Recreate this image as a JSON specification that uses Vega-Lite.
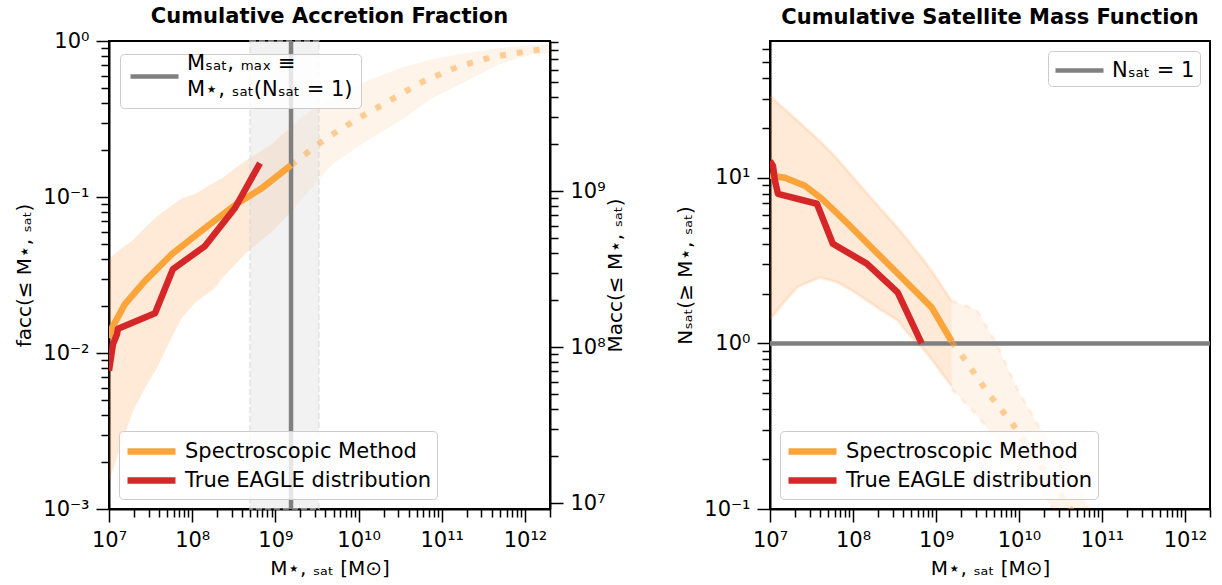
{
  "$schema": "https://vega.github.io/schema/vega-lite/v6.json",
  "padding": {"left": 13, "top": 5, "right": 5, "bottom": 5},
  "datasets": {
    "grayBand": [{"lo": 495000000, "hi": 3340000000}],
    "vline": [{"x": 1542000000, "label": "Msat, max ≡ M⋆, sat(Nsat = 1)"}],
    "macc": [{"m": 9160000}, {"m": 9160000000}],
    "leftDark": [
      {"x": 10000000, "lo": 0.0015, "hi": 0.040},
      {"x": 14130000, "lo": 0.0026, "hi": 0.047},
      {"x": 19410000, "lo": 0.00425, "hi": 0.053},
      {"x": 28180000, "lo": 0.0062, "hi": 0.065},
      {"x": 37760000, "lo": 0.008, "hi": 0.075},
      {"x": 56230000, "lo": 0.0125, "hi": 0.088},
      {"x": 75340000, "lo": 0.0168, "hi": 0.098},
      {"x": 108100000, "lo": 0.021, "hi": 0.1045},
      {"x": 187900000, "lo": 0.0261, "hi": 0.125},
      {"x": 228000000, "lo": 0.030, "hi": 0.132},
      {"x": 431500000, "lo": 0.0431, "hi": 0.170},
      {"x": 910000000, "lo": 0.060, "hi": 0.219},
      {"x": 1542000000, "lo": 0.080, "hi": 0.28}
    ],
    "leftLight": [
      {"x": 1542000000, "lo": 0.080, "hi": 0.28},
      {"x": 2138000000, "lo": 0.0986, "hi": 0.33},
      {"x": 4898000000, "lo": 0.163, "hi": 0.44},
      {"x": 12590000000, "lo": 0.229, "hi": 0.554},
      {"x": 31620000000, "lo": 0.307, "hi": 0.671},
      {"x": 77620000000, "lo": 0.431, "hi": 0.767},
      {"x": 199500000000, "lo": 0.554, "hi": 0.838},
      {"x": 501200000000, "lo": 0.712, "hi": 0.902},
      {"x": 1259000000000, "lo": 0.826, "hi": 0.94},
      {"x": 2000000000000, "lo": 0.838, "hi": 0.957}
    ],
    "leftDotted": [
      {"x": 1542000000, "y": 0.16},
      {"x": 3945000000, "y": 0.235},
      {"x": 9572000000, "y": 0.316},
      {"x": 23170000000, "y": 0.412},
      {"x": 57810000000, "y": 0.546},
      {"x": 152400000000, "y": 0.681},
      {"x": 400900000000, "y": 0.789},
      {"x": 1148000000000, "y": 0.863},
      {"x": 2000000000000, "y": 0.90}
    ],
    "leftLines": [
      {"series": "Spectroscopic Method", "x": 10000000, "y": 0.0125},
      {"series": "Spectroscopic Method", "x": 10860000, "y": 0.0145},
      {"series": "Spectroscopic Method", "x": 15560000, "y": 0.0206},
      {"series": "Spectroscopic Method", "x": 27100000, "y": 0.029},
      {"series": "Spectroscopic Method", "x": 57150000, "y": 0.0431},
      {"series": "Spectroscopic Method", "x": 142600000, "y": 0.0633},
      {"series": "Spectroscopic Method", "x": 354800000, "y": 0.0916},
      {"series": "Spectroscopic Method", "x": 690200000, "y": 0.114},
      {"series": "Spectroscopic Method", "x": 1542000000, "y": 0.16},
      {"series": "True EAGLE distribution", "x": 10000000, "y": 0.0077},
      {"series": "True EAGLE distribution", "x": 11170000, "y": 0.0114},
      {"series": "True EAGLE distribution", "x": 12470000, "y": 0.0132},
      {"series": "True EAGLE distribution", "x": 12820000, "y": 0.0143},
      {"series": "True EAGLE distribution", "x": 35730000, "y": 0.018},
      {"series": "True EAGLE distribution", "x": 58750000, "y": 0.0345},
      {"series": "True EAGLE distribution", "x": 142600000, "y": 0.0485},
      {"series": "True EAGLE distribution", "x": 326600000, "y": 0.085},
      {"series": "True EAGLE distribution", "x": 653100000, "y": 0.165}
    ],
    "hline": [{"y": 1, "label": "Nsat = 1"}],
    "rightDark": [
      {"x": 10000000, "lo": 1.4, "hi": 31.2},
      {"x": 16440000, "lo": 1.89, "hi": 25},
      {"x": 21730000, "lo": 2.2, "hi": 22},
      {"x": 39810000, "lo": 2.5, "hi": 16.7},
      {"x": 63100000, "lo": 2.35, "hi": 13.2},
      {"x": 96830000, "lo": 2.09, "hi": 10.3},
      {"x": 138700000, "lo": 1.85, "hi": 8.35},
      {"x": 221800000, "lo": 1.58, "hi": 6.4},
      {"x": 345100000, "lo": 1.38, "hi": 5.0},
      {"x": 456000000, "lo": 1.15, "hi": 4.2},
      {"x": 671400000, "lo": 0.95, "hi": 3.3},
      {"x": 885100000, "lo": 0.8, "hi": 2.75},
      {"x": 1542000000, "lo": 0.55, "hi": 1.81}
    ],
    "rightLight": [
      {"x": 1542000000, "lo": 0.53, "hi": 1.81},
      {"x": 3090000000, "lo": 0.37, "hi": 1.6},
      {"x": 5370000000, "lo": 0.26, "hi": 1.0},
      {"x": 9333000000, "lo": 0.19, "hi": 0.543},
      {"x": 17580000000, "lo": 0.135, "hi": 0.312},
      {"x": 21380000000, "lo": 0.113, "hi": 0.27},
      {"x": 40360000000, "lo": 0.075, "hi": 0.165},
      {"x": 70150000000, "lo": 0.05, "hi": 0.1},
      {"x": 100000000000, "lo": 0.04, "hi": 0.075}
    ],
    "rightDotted": [
      {"x": 1542000000, "y": 1.03},
      {"x": 2344000000, "y": 0.77},
      {"x": 3162000000, "y": 0.62},
      {"x": 4169000000, "y": 0.507},
      {"x": 5808000000, "y": 0.41},
      {"x": 8110000000, "y": 0.334},
      {"x": 20180000000, "y": 0.17},
      {"x": 41690000000, "y": 0.1},
      {"x": 63100000000, "y": 0.075}
    ],
    "rightLines": [
      {"series": "Spectroscopic Method", "x": 10000000, "y": 10.3},
      {"series": "Spectroscopic Method", "x": 15140000, "y": 10.0},
      {"series": "Spectroscopic Method", "x": 26300000, "y": 8.95},
      {"series": "Spectroscopic Method", "x": 42170000, "y": 7.47},
      {"series": "Spectroscopic Method", "x": 86700000, "y": 5.28},
      {"series": "Spectroscopic Method", "x": 182800000, "y": 3.63},
      {"series": "Spectroscopic Method", "x": 419800000, "y": 2.4},
      {"series": "Spectroscopic Method", "x": 885100000, "y": 1.65},
      {"series": "Spectroscopic Method", "x": 1542000000, "y": 1.03},
      {"series": "True EAGLE distribution", "x": 10000000, "y": 12.65},
      {"series": "True EAGLE distribution", "x": 10860000, "y": 11.8},
      {"series": "True EAGLE distribution", "x": 11480000, "y": 9.6},
      {"series": "True EAGLE distribution", "x": 12470000, "y": 8.0},
      {"series": "True EAGLE distribution", "x": 36730000, "y": 6.97},
      {"series": "True EAGLE distribution", "x": 57150000, "y": 4.0},
      {"series": "True EAGLE distribution", "x": 146600000, "y": 3.03},
      {"series": "True EAGLE distribution", "x": 345100000, "y": 2.03},
      {"series": "True EAGLE distribution", "x": 671400000, "y": 1.0}
    ]
  },
  "hconcat": [
    {
      "width": 441,
      "height": 468,
      "title": {"text": "Cumulative Accretion Fraction", "offset": 3},
      "layer": [
        {
          "layer": [
            {
              "data": {"name": "leftDark"},
              "mark": {"type": "area", "color": "#ff7f0e", "opacity": 0.16, "clip": true},
              "encoding": {
                "x": {"field": "x", "type": "quantitative",
                  "scale": {"type": "log", "domain": [10000000, 2000000000000], "nice": false},
                  "axis": {
                    "title": "M⋆, ₛₐₜ [M⊙]",
                    "values": [10000000,20000000,30000000,40000000,50000000,60000000,70000000,80000000,90000000,100000000,200000000,300000000,400000000,500000000,600000000,700000000,800000000,900000000,1000000000,2000000000,3000000000,4000000000,5000000000,6000000000,7000000000,8000000000,9000000000,10000000000,20000000000,30000000000,40000000000,50000000000,60000000000,70000000000,80000000000,90000000000,100000000000,200000000000,300000000000,400000000000,500000000000,600000000000,700000000000,800000000000,900000000000,1000000000000,2000000000000],
                    "labelExpr": "datum.value == 10000000 ? '10⁷' : datum.value == 100000000 ? '10⁸' : datum.value == 1000000000 ? '10⁹' : datum.value == 10000000000 ? '10¹⁰' : datum.value == 100000000000 ? '10¹¹' : datum.value == 1000000000000 ? '10¹²' : ''",
                    "tickSize": {"condition": {"test": "indexof([10000000,100000000,1000000000,10000000000,100000000000,1000000000000], datum.value) >= 0", "value": 13}, "value": 8}
                  }
                },
                "y": {"field": "lo", "type": "quantitative",
                  "scale": {"type": "log", "domain": [0.001, 1], "nice": false},
                  "axis": {
                    "title": "facc(≤ M⋆, ₛₐₜ)",
                    "values": [0.001,0.002,0.003,0.004,0.005,0.006,0.007,0.008,0.009,0.01,0.02,0.03,0.04,0.05,0.06,0.07,0.08,0.09,0.1,0.2,0.3,0.4,0.5,0.6,0.7,0.8,0.9,1],
                    "labelExpr": "datum.value == 0.001 ? '10⁻³' : datum.value == 0.01 ? '10⁻²' : datum.value == 0.1 ? '10⁻¹' : datum.value == 1 ? '10⁰' : ''",
                    "tickSize": {"condition": {"test": "indexof([0.001,0.01,0.1,1], datum.value) >= 0", "value": 13}, "value": 8}
                  }
                },
                "y2": {"field": "hi"}
              }
            },
            {
              "data": {"name": "leftLight"},
              "mark": {"type": "area", "color": "#ff7f0e", "opacity": 0.085, "clip": true},
              "encoding": {
                "x": {"field": "x", "type": "quantitative"},
                "y": {"field": "lo", "type": "quantitative"},
                "y2": {"field": "hi"}
              }
            },
            {
              "data": {"name": "grayBand"},
              "mark": {"type": "rect", "fill": "#d9d9d9", "fillOpacity": 0.35, "stroke": "#d9d9d9", "strokeOpacity": 0.5, "strokeDash": [6, 3], "strokeWidth": 2},
              "encoding": {
                "x": {"field": "lo", "type": "quantitative"},
                "x2": {"field": "hi"}
              }
            },
            {
              "data": {"name": "leftDotted"},
              "mark": {"type": "line", "color": "#fba43a", "opacity": 0.5, "strokeWidth": 6, "strokeDash": [6, 11], "strokeCap": "butt", "clip": true},
              "encoding": {
                "x": {"field": "x", "type": "quantitative"},
                "y": {"field": "y", "type": "quantitative"}
              }
            },
            {
              "data": {"name": "vline"},
              "mark": {"type": "rule", "strokeWidth": 4.5},
              "encoding": {
                "x": {"field": "x", "type": "quantitative"},
                "color": {"field": "label", "type": "nominal",
                  "scale": {"range": ["#808080"]},
                  "legend": {"orient": "none", "legendX": 11, "legendY": 13, "title": null, "symbolStrokeWidth": 4.5, "padding": 8,
                    "labelExpr": "['Mₛₐₜ, ₘₐₓ ≡', 'M⋆, ₛₐₜ(Nₛₐₜ = 1)']",
                    "encode": {"labels": {"update": {"dy": {"value": -13}, "lineHeight": {"value": 26}}}}}}
              }
            },
            {
              "data": {"name": "leftLines"},
              "mark": {"type": "line", "strokeWidth": 6.5, "strokeJoin": "round", "clip": true},
              "encoding": {
                "x": {"field": "x", "type": "quantitative"},
                "y": {"field": "y", "type": "quantitative"},
                "color": {"field": "series", "type": "nominal",
                  "scale": {"domain": ["Spectroscopic Method", "True EAGLE distribution"], "range": ["#fba43a", "#d62728"]},
                  "legend": {"orient": "bottom-left", "title": null}}
              }
            }
          ],
          "resolve": {"scale": {"color": "independent"}}
        },
        {
          "data": {"name": "macc"},
          "mark": {"type": "point", "opacity": 0},
          "encoding": {
            "y": {"field": "m", "type": "quantitative",
              "scale": {"type": "log", "domain": [9160000, 9160000000], "nice": false},
              "axis": {
                "orient": "right",
                "title": "Macc(≤ M⋆, ₛₐₜ)",
                "titleAngle": 270,
                "titleBaseline": "top",
                "titlePadding": 0,
                "values": [10000000,20000000,30000000,40000000,50000000,60000000,70000000,80000000,90000000,100000000,200000000,300000000,400000000,500000000,600000000,700000000,800000000,900000000,1000000000,2000000000,3000000000,4000000000,5000000000,6000000000,7000000000,8000000000,9000000000],
                "labelExpr": "datum.value == 10000000 ? '10⁷' : datum.value == 100000000 ? '10⁸' : datum.value == 1000000000 ? '10⁹' : ''",
                "tickSize": {"condition": {"test": "indexof([10000000,100000000,1000000000], datum.value) >= 0", "value": 13}, "value": 8}
              }
            }
          }
        }
      ],
      "resolve": {"scale": {"y": "independent"}}
    },
    {
      "width": 440,
      "height": 468,
      "title": {"text": "Cumulative Satellite Mass Function", "offset": 10},
      "layer": [
        {
          "data": {"name": "rightDark"},
          "mark": {"type": "area", "color": "#ff7f0e", "opacity": 0.16, "clip": true},
          "encoding": {
            "x": {"field": "x", "type": "quantitative",
              "scale": {"type": "log", "domain": [10000000, 2000000000000], "nice": false},
              "axis": {
                "title": "M⋆, ₛₐₜ [M⊙]",
                "values": [10000000,20000000,30000000,40000000,50000000,60000000,70000000,80000000,90000000,100000000,200000000,300000000,400000000,500000000,600000000,700000000,800000000,900000000,1000000000,2000000000,3000000000,4000000000,5000000000,6000000000,7000000000,8000000000,9000000000,10000000000,20000000000,30000000000,40000000000,50000000000,60000000000,70000000000,80000000000,90000000000,100000000000,200000000000,300000000000,400000000000,500000000000,600000000000,700000000000,800000000000,900000000000,1000000000000,2000000000000],
                "labelExpr": "datum.value == 10000000 ? '10⁷' : datum.value == 100000000 ? '10⁸' : datum.value == 1000000000 ? '10⁹' : datum.value == 10000000000 ? '10¹⁰' : datum.value == 100000000000 ? '10¹¹' : datum.value == 1000000000000 ? '10¹²' : ''",
                "tickSize": {"condition": {"test": "indexof([10000000,100000000,1000000000,10000000000,100000000000,1000000000000], datum.value) >= 0", "value": 13}, "value": 8}
              }
            },
            "y": {"field": "lo", "type": "quantitative",
              "scale": {"type": "log", "domain": [0.1, 67], "nice": false},
              "axis": {
                "title": "Nₛₐₜ(≥ M⋆, ₛₐₜ)",
                "values": [0.1,0.2,0.3,0.4,0.5,0.6,0.7,0.8,0.9,1,2,3,4,5,6,7,8,9,10,20,30,40,50,60],
                "labelExpr": "datum.value == 0.1 ? '10⁻¹' : datum.value == 1 ? '10⁰' : datum.value == 10 ? '10¹' : ''",
                "tickSize": {"condition": {"test": "indexof([0.1,1,10], datum.value) >= 0", "value": 13}, "value": 8}
              }
            },
            "y2": {"field": "hi"}
          }
        },
        {
          "data": {"name": "rightDark"},
          "mark": {"type": "line", "color": "#ff7f0e", "opacity": 0.12, "strokeWidth": 3, "clip": true},
          "encoding": {
            "x": {"field": "x", "type": "quantitative"},
            "y": {"field": "hi", "type": "quantitative"}
          }
        },
        {
          "data": {"name": "rightDark"},
          "mark": {"type": "line", "color": "#ff7f0e", "opacity": 0.12, "strokeWidth": 3, "clip": true},
          "encoding": {
            "x": {"field": "x", "type": "quantitative"},
            "y": {"field": "lo", "type": "quantitative"}
          }
        },
        {
          "data": {"name": "rightLight"},
          "mark": {"type": "area", "color": "#ff7f0e", "opacity": 0.085, "clip": true},
          "encoding": {
            "x": {"field": "x", "type": "quantitative"},
            "y": {"field": "lo", "type": "quantitative"},
            "y2": {"field": "hi"}
          }
        },
        {
          "data": {"name": "rightLight"},
          "mark": {"type": "line", "color": "#ff7f0e", "opacity": 0.1, "strokeWidth": 3, "strokeDash": [6, 8], "clip": true},
          "encoding": {
            "x": {"field": "x", "type": "quantitative"},
            "y": {"field": "hi", "type": "quantitative"}
          }
        },
        {
          "data": {"name": "rightLight"},
          "mark": {"type": "line", "color": "#ff7f0e", "opacity": 0.1, "strokeWidth": 3, "strokeDash": [6, 8], "clip": true},
          "encoding": {
            "x": {"field": "x", "type": "quantitative"},
            "y": {"field": "lo", "type": "quantitative"}
          }
        },
        {
          "data": {"name": "hline"},
          "mark": {"type": "rule", "strokeWidth": 4.5},
          "encoding": {
            "y": {"field": "y", "type": "quantitative"},
            "color": {"field": "label", "type": "nominal",
              "scale": {"range": ["#808080"]},
              "legend": {"orient": "top-right", "title": null, "symbolStrokeWidth": 4.5,
                "labelExpr": "'Nₛₐₜ = 1'"}}
          }
        },
        {
          "data": {"name": "rightDotted"},
          "mark": {"type": "line", "color": "#fba43a", "opacity": 0.5, "strokeWidth": 6, "strokeDash": [6, 11], "strokeCap": "butt", "clip": true},
          "encoding": {
            "x": {"field": "x", "type": "quantitative"},
            "y": {"field": "y", "type": "quantitative"}
          }
        },
        {
          "data": {"name": "rightLines"},
          "mark": {"type": "line", "strokeWidth": 6.5, "strokeJoin": "round", "clip": true},
          "encoding": {
            "x": {"field": "x", "type": "quantitative"},
            "y": {"field": "y", "type": "quantitative"},
            "color": {"field": "series", "type": "nominal",
              "scale": {"domain": ["Spectroscopic Method", "True EAGLE distribution"], "range": ["#fba43a", "#d62728"]},
              "legend": {"orient": "bottom-left", "title": null}}
          }
        }
      ],
      "resolve": {"scale": {"color": "independent"}}
    }
  ],
  "spacing": 220,
  "bounds": "flush",
  "resolve": {"scale": {"color": "independent"}, "legend": {"color": "independent"}},
  "config": {
    "font": "DejaVu Sans",
    "view": {"stroke": "black", "strokeWidth": 2},
    "axis": {
      "grid": false, "domainColor": "black", "domainWidth": 2,
      "tickColor": "black", "tickWidth": 1.5,
      "labelFontSize": 21, "labelColor": "black", "labelFont": "DejaVu Sans",
      "titleFont": "DejaVu Sans", "titleFontSize": 20, "titleFontWeight": "normal", "titleColor": "black",
      "labelPadding": 7, "labelOverlap": false, "labelFlush": false, "labelBound": false, "titlePadding": 8
    },
    "legend": {
      "symbolType": "M-1,0H3", "symbolSize": 576, "symbolStrokeWidth": 6.5,
      "labelFontSize": 21, "labelFont": "DejaVu Sans", "labelColor": "black", "labelLimit": 400,
      "fillColor": "rgba(255,255,255,0.8)", "strokeColor": "#cccccc", "cornerRadius": 4,
      "padding": 5, "offset": 10, "labelOffset": 30, "rowPadding": 0
    },
    "title": {"font": "DejaVu Sans", "fontSize": 21, "fontWeight": "bold", "color": "black", "anchor": "middle", "frame": "group"}
  }
}
